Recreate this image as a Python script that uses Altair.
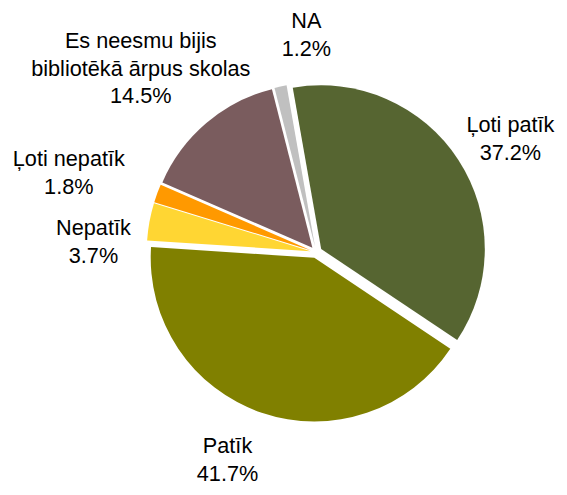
import math
import altair as alt
import pandas as pd

# ---- data ----
categories = ["Ļoti patīk", "Patīk", "Nepatīk", "Ļoti nepatīk",
              "Es neesmu bijis bibliotēkā ārpus skolas", "NA"]
values = [37.2, 41.7, 3.7, 1.8, 14.5, 1.2]
label_lines = [["Ļoti patīk"], ["Patīk"], ["Nepatīk"], ["Ļoti nepatīk"],
               ["Es neesmu bijis", "bibliotēkā ārpus skolas"], ["NA"]]

# ---- style / layout ----
colors = ["#566531", "#808000", "#FFD633", "#FF9900", "#7A5C5E", "#C0C0C0"]
EXPLODE = 6
label_dx = [197, -90, -226, -251, -178, -10]
label_dy = [-122, 204, -17, -87, -207, -227]
CX, CY, R = 312.7, 244.3, 166
START_DEG = -10

total = sum(values)
rows = []
cum = 0.0
for i, (c, v) in enumerate(zip(categories, values)):
    t0 = math.radians(START_DEG) + cum / total * 2 * math.pi
    cum += v
    t1 = math.radians(START_DEG) + cum / total * 2 * math.pi
    mid = (t0 + t1) / 2
    rows.append({
        "cat": c,
        "value": v,
        "t0": t0,
        "t1": t1,
        "cx": CX + EXPLODE * math.sin(mid),
        "cy": CY - EXPLODE * math.cos(mid),
        "lx": CX + label_dx[i],
        "ly": CY + label_dy[i],
        "label": label_lines[i] + [f"{v:.1f}%"],
    })
df = pd.DataFrame(rows)

base = alt.Chart(df)

arcs = base.mark_arc(radius=R).encode(
    theta=alt.Theta("t0:Q", scale=None),
    theta2="t1:Q",
    x=alt.X("cx:Q", scale=None, axis=None),
    y=alt.Y("cy:Q", scale=None, axis=None),
    color=alt.Color("cat:N", scale=alt.Scale(domain=categories, range=colors), legend=None),
)

labels = base.mark_text(
    font="Liberation Sans", fontSize=22, align="center", baseline="alphabetic",
    lineHeight=28, color="black",
).encode(
    x=alt.X("lx:Q", scale=None, axis=None),
    y=alt.Y("ly:Q", scale=None, axis=None),
    text="label",
)

chart = alt.layer(arcs, labels).properties(
    width=559, height=479, padding=0, autosize="none"
).configure_view(stroke=None)

chart.save("out.html", embed_options={"renderer": "svg", "actions": False})
